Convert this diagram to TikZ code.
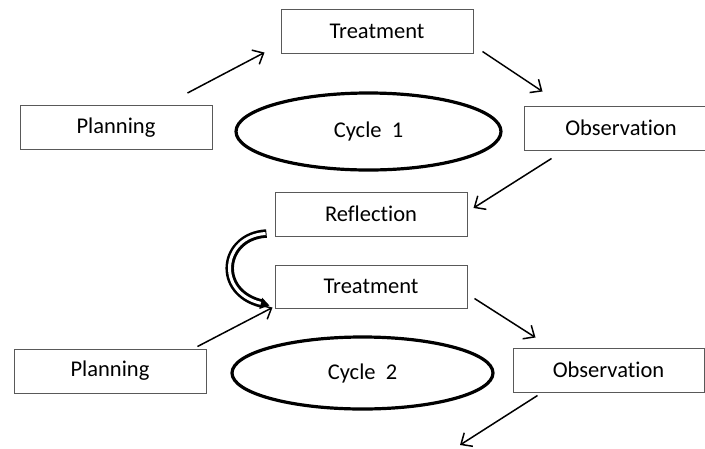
\documentclass[tikz,border=0pt]{standalone}
\usepackage{fontspec}
\setmainfont{Carlito}[Ligatures=NoCommon]
\usepackage{tikz}
\usetikzlibrary{positioning, arrows.meta, shapes}

\begin{document}
\begin{tikzpicture}[x=1pt, y=-1pt,
    stage/.style={draw=black!65, line width=1pt, minimum width=192pt, minimum height=44pt, font=\fontsize{22.5}{26}\selectfont},
    cycle/.style={ellipse, draw, line width=3.2pt, font=\fontsize{22.5}{26}\selectfont},
    flow/.style={line width=1.5pt, -{Straight Barb[length=9pt, width=16pt, line width=1.5pt]}}]
        \clip (0,0) rectangle (705,448);

        % Cycle 1
        \node[stage] (treatA) at (377,31) {Treatment};
        \node[stage] (planA) at (116,127.5) {Planning};
        \node[stage, minimum width=194pt] (obsA) at (621,128) {Observation};
        \node[cycle, minimum width=265pt, minimum height=77pt] (cycA) at (368.5,131.5) {Cycle\ \ 1};
        \node[stage] (refl) at (371,214) {Reflection};

        % Cycle 2
        \node[stage, minimum height=43pt] (treatB) at (371,286.5) {Treatment};
        \node[stage] (planB) at (110,371) {Planning};
        \node[stage, minimum width=191pt] (obsB) at (608.5,370) {Observation};
        \node[cycle, minimum width=261pt, minimum height=72pt] (cycB) at (362.5,373) {Cycle\ \ 2};
        \coordinate (next) at (460,445);

        % Arrows
        \draw[flow] ([xshift=-25pt, yshift=12pt]planA.north east) -- ([xshift=-16pt, yshift=1pt]treatA.south west);
        \draw[flow] ([xshift=9pt, yshift=2pt]treatA.south east) -- ([xshift=19pt, yshift=14pt]obsA.north west);
        \draw[flow] ([xshift=28pt, yshift=-8pt]obsA.south west) -- ([xshift=6pt, yshift=6pt]refl.east);
        \draw[flow] ([xshift=-9pt, yshift=2pt]planB.north east) -- ([xshift=-2pt, yshift=1pt]treatB.south west);
        \draw[flow] ([xshift=7pt, yshift=10pt]treatB.south east) -- ([xshift=23pt, yshift=10pt]obsB.north west);
        \draw[flow] ([xshift=25pt, yshift=-3pt]obsB.south west) -- (next);

        % Curved block arrow from Reflection to Treatment
        \draw[line width=8.5pt, -{Triangle[length=9pt, width=11pt]}] ([xshift=-8pt, yshift=3pt]refl.south west)
            .. controls (222,236) and (215,292) .. ([xshift=-5pt, yshift=3pt]treatB.south west);
        \draw[white, line width=3pt, shorten >=9pt] ([xshift=-9pt, yshift=3pt]refl.south west)
            .. controls (222,236) and (215,292) .. ([xshift=-5pt, yshift=3pt]treatB.south west);
\end{tikzpicture}
\end{document}
